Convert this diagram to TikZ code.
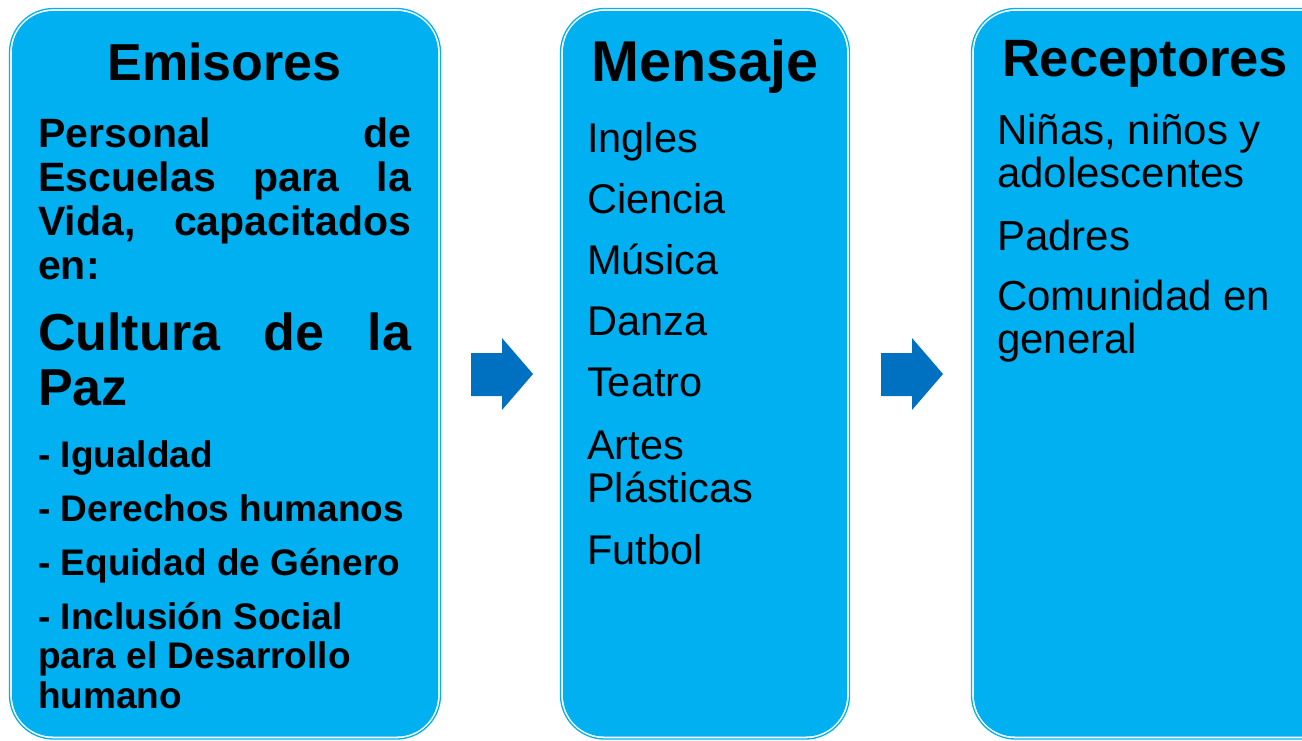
\documentclass[tikz,border=0pt]{standalone}
\usepackage{fontspec}
\setmainfont{Liberation Sans}
\usetikzlibrary{positioning}
\definecolor{celeste}{HTML}{00B0F0}
\definecolor{azul}{HTML}{0070C0}
\newcommand{\justline}[1]{\makebox[373pt][s]{#1}}

\begin{document}
\begin{tikzpicture}[x=1pt,y=-1pt,
    rim/.style = {draw=celeste, line width=1.3pt, rounded corners=44pt},
    panel/.style = {fill=celeste, rounded corners=41pt},
    flecha/.style = {fill=azul},
    titulo/.style = {anchor=base, inner sep=0pt, font=\bfseries\fontsize{#1}{#1}\selectfont},
    item/.style = {anchor=base west, inner sep=0pt, align=left, font=\fontsize{41.5}{43}\selectfont}]
\clip (0,0) rectangle (1302,740);
% three panels
\draw[rim] (9.5,8.5) rectangle (440.5,739);
\fill[panel] (12,11) rectangle (438,736.5);
\draw[rim] (560.5,8.5) rectangle (849.5,739);
\fill[panel] (563,11) rectangle (847,736.5);
\draw[rim] (971.5,8.5) rectangle (1345,739);
\fill[panel] (974,11) rectangle (1343,736.5);
% arrows
\foreach \dx in {0,410}
    \fill[flecha, xshift=\dx] (471,353) -- (502,353) -- (502,338) -- (533,374)
        -- (502,410) -- (502,396) -- (471,396) -- cycle;
% emisores (multi-line nodes sit on their last baseline)
\node[titulo=52] (emisores) at (224.5,80) {Emisores};
\node[item, font=\bfseries\fontsize{41}{44}\selectfont] (personal) at (38,279)
    {\justline{Personal de}\\\justline{Escuelas para la}\\\justline{Vida, capacitados}\\en:};
\node[item, font=\bfseries\fontsize{52}{55}\selectfont] (cultura) at (38,405)
    {\justline{Cultura de la}\\Paz};
\node[item, font=\bfseries\fontsize{37}{39.5}\selectfont] (igualdad) at (38,467) {- Igualdad};
\node[item, font=\bfseries\fontsize{37}{39.5}\selectfont] (derechos) at (38,521) {- Derechos humanos};
\node[item, font=\bfseries\fontsize{37}{39.5}\selectfont] (equidad) at (38,575) {- Equidad de Género};
\node[item, font=\bfseries\fontsize{37}{39.5}\selectfont] (inclusion) at (38,708)
    {- Inclusión Social\\para el Desarrollo\\humano};
% mensaje
\node[titulo=57.5] (mensaje) at (705,81) {Mensaje};
\node[item] (ingles) at (587,152) {Ingles};
\node[item] (ciencia) at (587,213) {Ciencia};
\node[item] (musica) at (587,274) {Música};
\node[item] (danza) at (587,335) {Danza};
\node[item] (teatro) at (587,396) {Teatro};
\node[item] (artes) at (587,502) {Artes\\Plásticas};
\node[item] (futbol) at (587,564) {Futbol};
% receptores
\node[titulo=52.5] (receptores) at (1145,76) {Receptores};
\node[item, font=\fontsize{42}{43}\selectfont] (ninos) at (997,187) {Niñas, niños y\\adolescentes};
\node[item, font=\fontsize{42}{43}\selectfont] (padres) at (997,250) {Padres};
\node[item, font=\fontsize{42}{43}\selectfont] (comunidad) at (997,353) {Comunidad en\\general};
\end{tikzpicture}
\end{document}
